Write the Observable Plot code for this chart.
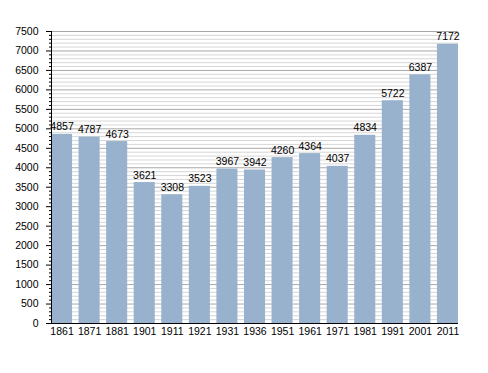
<!DOCTYPE html>
<html><head><meta charset="utf-8">
<script src="https://cdn.jsdelivr.net/npm/d3@7"></script>
<script src="https://cdn.jsdelivr.net/npm/@observablehq/plot@0.6"></script>
<style>body{margin:0;background:#fff;font-family:"Liberation Sans",Arial,sans-serif}</style>
</head><body><div id="chart"></div>
<script>
const years = ["1861","1871","1881","1901","1911","1921","1931","1936","1951","1961","1971","1981","1991","2001","2011"];
const population = [4857,4787,4673,3621,3308,3523,3967,3942,4260,4364,4037,4834,5722,6387,7172];
const majorTicks = d3.range(0, 7501, 500);
const minorTicks = d3.range(0, 7501, 100).filter(v => v % 500 !== 0);
const data = years.map((y, i) => ({year: y, value: population[i]}));

const chart = Plot.plot({
  width: 488, height: 373,
  marginLeft: 51, marginRight: 30, marginTop: 31, marginBottom: 50,
  style: {fontFamily: '"Liberation Sans", Arial, sans-serif', fontSize: "10.5px", color: "#000", background: "#fff"},
  x: {type: "band", domain: years, paddingInner: 0.236, paddingOuter: 0, round: false, label: null},
  y: {domain: [0, 7500], label: null},
  marks: [
    Plot.gridY(minorTicks, {stroke: "#d6d6d6", strokeOpacity: 1}),
    Plot.gridY(majorTicks, {stroke: "#a8a8a8", strokeOpacity: 1}),
    Plot.barY(data, {x: "year", y: "value", fill: "#98b2ce"}),
    Plot.text(data, {x: "year", y: "value", text: d => String(d.value), lineAnchor: "bottom", dy: -4, fill: "#000", fontSize: 10.5}),
    Plot.axisY(minorTicks, {tickSize: 3, text: null, label: null, stroke: "#000", dx: 1}),
    Plot.axisY(majorTicks, {tickSize: 6, tickPadding: 8, tickFormat: d3.format("d"), label: null, stroke: "#000", fill: "#000", dx: 1}),
    Plot.axisX({tickSize: 0, tickPadding: 4, label: null, fill: "#000"}),
    Plot.ruleY([0], {stroke: "#000"}),
    Plot.frame({anchor: "left", stroke: "#000"})
  ]
});
document.getElementById("chart").appendChild(chart);
</script></body></html>
